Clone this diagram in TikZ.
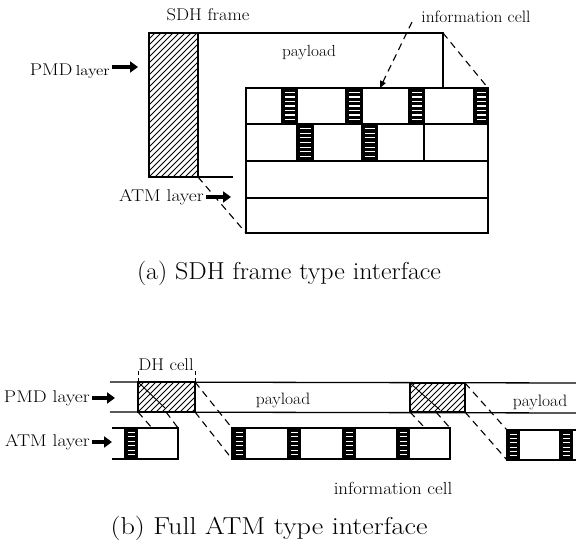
\documentclass[tikz,border=0pt]{standalone}
\usepackage{graphicx}
\usetikzlibrary{arrows.meta}
\newcommand\cellhdr[5]{%
  \fill[black] (#1,#2) rectangle (#3,#4);
  \foreach \k in {1,...,#5}{\draw[white,line width=1.2pt] ({#1+2.5},{#2+\k*(#4-#2)/(#5+1)}) -- ({#3-2.5},{#2+\k*(#4-#2)/(#5+1)});}
}
\newcommand\hatchbox[4]{%
  \begin{scope}
    \clip (#1,#2) rectangle (#3,#4);
    \foreach \s in {-300,-294,...,100}{\draw[line width=0.9pt] ({#1+\s},#4) -- ({#1+\s+300},{#4-300});}
  \end{scope}
}
\newcommand\widetxt[2]{\scalebox{#1}[1]{#2}}
\begin{document}
\begin{tikzpicture}[x=1pt,y=-1pt,line join=miter,
  frame/.style={line width=1.3pt},
  dsh/.style={line width=1.1pt,dash pattern=on 7pt off 5pt},
  lbl/.style={inner sep=0pt,font=\fontsize{17}{20}\selectfont},
  captext/.style={inner sep=0pt,font=\fontsize{24.5}{28}\selectfont},
  blockarrow/.style={line width=3.5pt,-{Triangle[length=8pt,width=11pt]}},
]
\useasboundingbox[fill=white] (0,0) rectangle (576,540);

% ---------------- (a) SDH frame type interface ----------------
\node[lbl] (sdh) at (208,15) {\widetxt{1.085}{SDH frame}};
\node[lbl,font=\fontsize{16}{18}\selectfont] (payA) at (309,53) {\widetxt{1.08}{payload}};
\node[lbl,font=\fontsize{16.5}{18}\selectfont] (infoA) at (476,17) {\widetxt{1.055}{information cell}};
\node[lbl,anchor=east] (pmdA) at (110,71) {\widetxt{1.15}{{\fontsize{17}{18}\selectfont PMD}\,{\fontsize{14.5}{16}\selectfont layer}}};
\node[lbl,anchor=east] (atmA) at (204,197) {\widetxt{1.15}{ATM layer}};

% hatched overhead
\hatchbox{149}{33}{198}{177}
\draw[line width=2pt] (149,33) rectangle (198,177);
\coordinate (fTL) at (149,33);
\coordinate (fTR) at (443,33);
\coordinate (fBR) at (198,177);
\coordinate (fBE) at (233,177);
\coordinate (bxTL) at (246,88);
\coordinate (bxTR) at (488,88);
\coordinate (bxBL) at (246,233);
\coordinate (bxBR) at (488,233);
\draw[frame] (fTL) -- (fTR) -- (443,88);
\draw[frame] (fBR) -- (fBE);

% arrows
\coordinate (pa1) at (112,67); \coordinate (pa2) at (138,67);
\draw[blockarrow] (pa1) -- (pa2);
\coordinate (aa1) at (206,197); \coordinate (aa2) at (231,197);
\draw[blockarrow] (aa1) -- (aa2);

% expanded payload box
\cellhdr{282}{88}{297}{124}{7}
\cellhdr{346}{88}{362}{124}{7}
\cellhdr{409}{88}{424}{124}{7}
\cellhdr{474}{88}{488}{124}{7}
\cellhdr{297}{124}{313}{161}{7}
\cellhdr{362}{124}{377}{161}{7}
\draw[frame] (bxTL) rectangle (bxBR);
\foreach \yy in {124,161,198} \draw[frame] (246,\yy) -- (488,\yy);
\foreach \xx in {282,297,346,362,409,424,474} \draw[frame] (\xx,88) -- (\xx,124);
\foreach \xx in {297,313,362,377,424} \draw[frame] (\xx,124) -- (\xx,161);

% dashed connectors
\draw[dsh] (fBR) -- (bxBL);
\draw[dsh] (fTR) -- (bxTR);
\coordinate (infoTip) at (380,88);
\coordinate (infoTail) at (412,22);
\draw[dsh,-{Triangle[length=7pt,width=6pt]}] (infoTail) -- (infoTip);

\node[captext] (capA) at (289,273) {\widetxt{1.06}{(a) SDH frame type interface}};

% ---------------- (b) Full ATM type interface ----------------
\node[lbl,anchor=east] (pmdB) at (90,398) {\widetxt{1.15}{PMD layer}};
\node[lbl,anchor=east] (atmB) at (90,442) {\widetxt{1.15}{ATM layer}};
\node[lbl] (dh) at (166,365) {\widetxt{1.08}{DH cell}};
\node[lbl,font=\fontsize{16.5}{18}\selectfont] (payB1) at (283,400) {\widetxt{1.06}{payload}};
\node[lbl,font=\fontsize{16.5}{18}\selectfont] (payB2) at (540,402) {\widetxt{1.06}{payload}};
\node[lbl,font=\fontsize{17.5}{20}\selectfont] (infoB) at (393,488) {\widetxt{1.08}{information cell}};

\coordinate (pb1) at (92,398); \coordinate (pb2) at (115,398);
\draw[blockarrow] (pb1) -- (pb2);
\coordinate (ab1) at (92,442); \coordinate (ab2) at (112,442);
\draw[blockarrow] (ab1) -- (ab2);

% PMD strip
\hatchbox{138}{382}{195}{412}
\hatchbox{410}{383}{465}{412}
\draw[line width=0.9pt] (138,382) -- (165,408);
\draw[line width=0.9pt] (410,383) -- (440,410);
\draw[line width=1.8pt] (138,382) rectangle (195,412);
\draw[line width=1.8pt] (410,383) rectangle (465,412);
\draw[frame] (110,382) -- (576,383);
\draw[frame] (110,412) -- (576,413);

% ticks for DH cell
\draw[line width=1pt,dash pattern=on 4pt off 3pt] (138,371) -- (138,382);
\draw[line width=1pt,dash pattern=on 4pt off 3pt] (195,371) -- (195,382);

% ATM cells
\cellhdr{125}{428}{137}{459}{6}
\draw[frame] (112,428) -- (178,428) -- (178,459) -- (112,459);
\draw[frame] (125,428) -- (125,459) (137,428) -- (137,459);

\foreach \xx in {233,288,343,397} {\cellhdr{\xx}{428}{\xx+12}{459}{6}}
\draw[frame] (232,428) rectangle (450,459);
\foreach \xx in {233,288,343,397} {\draw[frame] (\xx+12,428) -- (\xx+12,459) (\xx,428) -- (\xx,459);}

\foreach \xx in {507,560} {\cellhdr{\xx}{430}{\xx+12}{460}{6}}
\draw[frame] (576,430) -- (507,430) -- (507,460) -- (576,460);
\foreach \xx in {507,560} {\draw[frame] (\xx+12,430) -- (\xx+12,460) (\xx,430) -- (\xx,460);}

% dashed mapping lines
\draw[dsh] (138,412) -- (152,428);
\draw[dsh] (166,412) -- (178,428);
\draw[dsh] (195,382) -- (232,428);
\draw[dsh] (195,412) -- (232,459);
\draw[dsh] (410,412) -- (425,428);
\draw[dsh] (436,412) -- (450,428);
\draw[dsh] (465,383) -- (507,430);
\draw[dsh] (465,412) -- (507,460);

\node[captext] (capB) at (269,528) {\widetxt{1.15}{(b) Full ATM type interface}};
\end{tikzpicture}
\end{document}
